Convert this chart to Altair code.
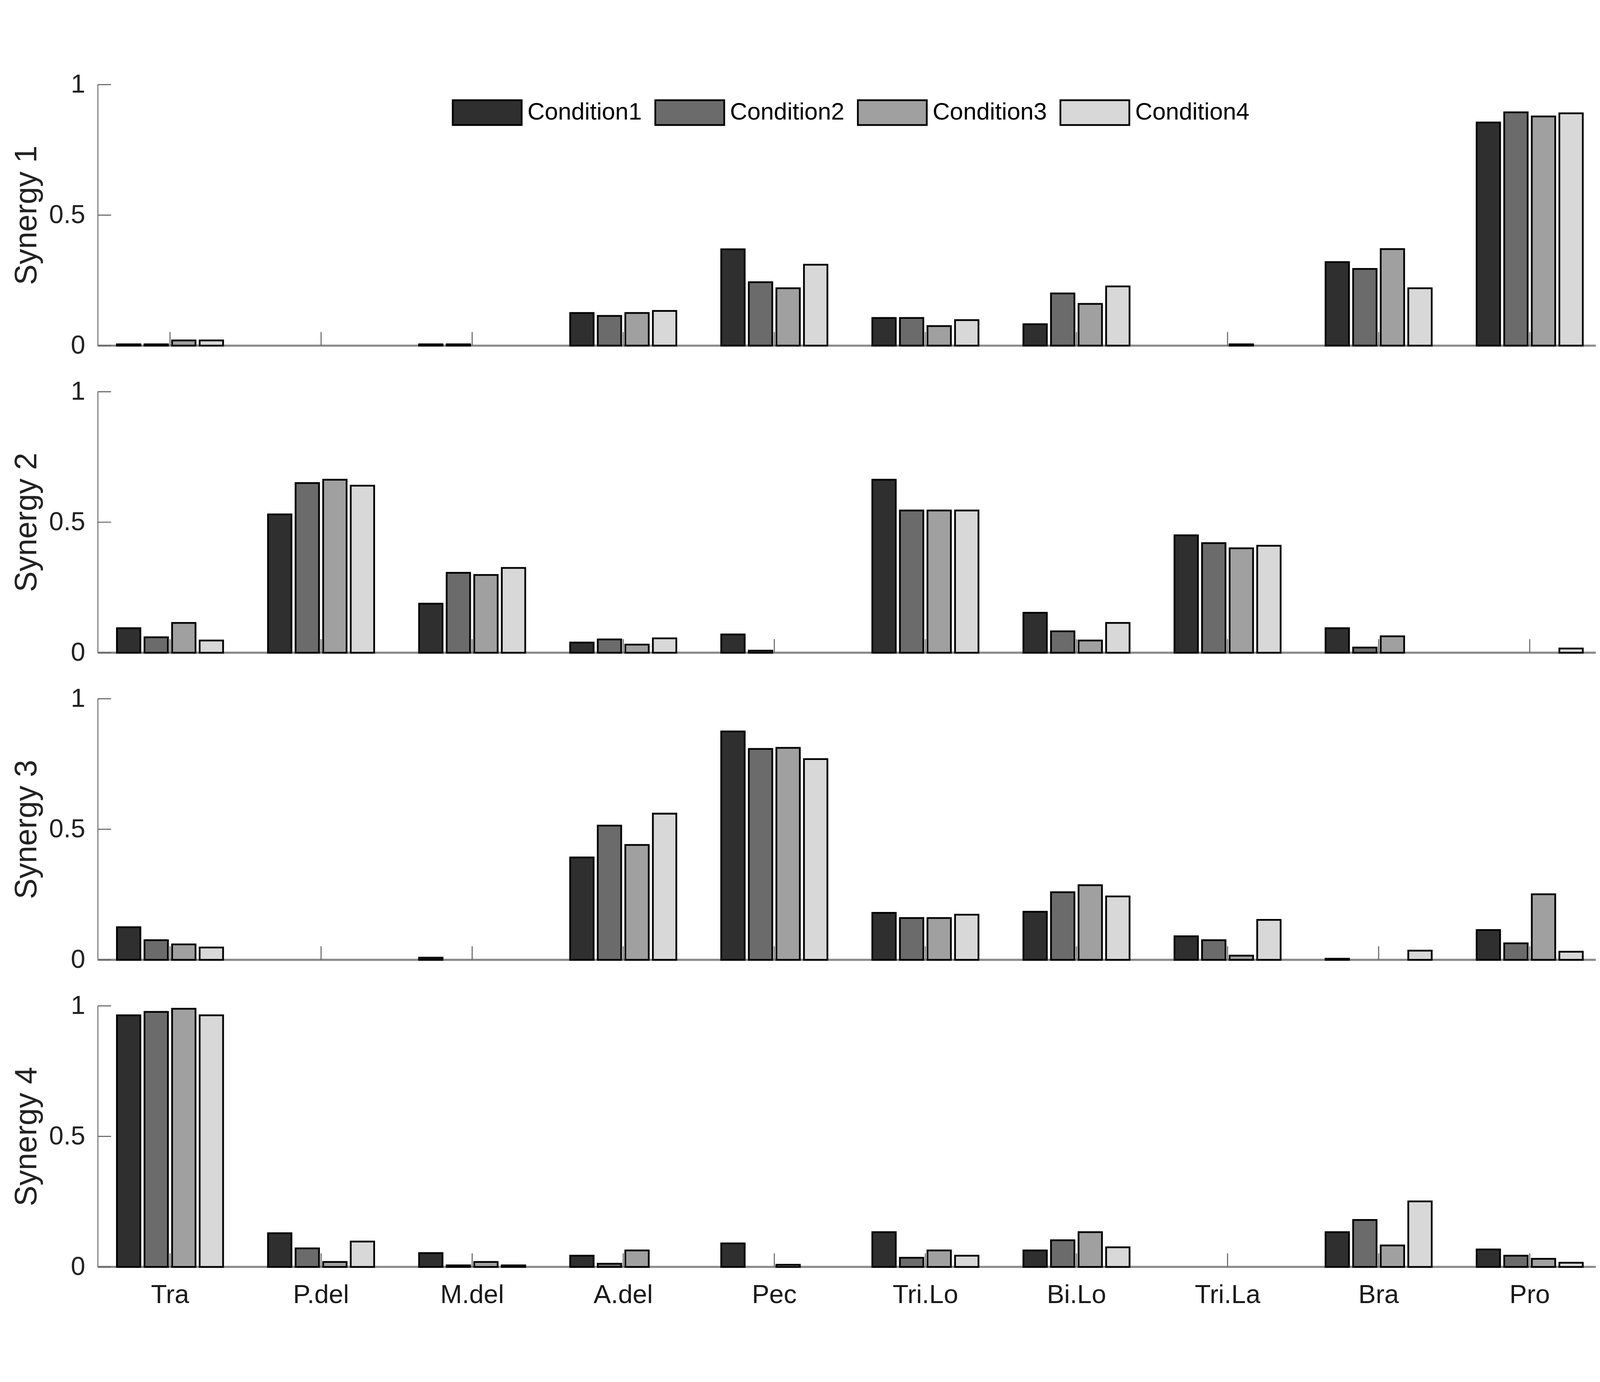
import altair as alt
import pandas as pd

muscles = ["Tra", "P.del", "M.del", "A.del", "Pec", "Tri.Lo", "Bi.Lo", "Tri.La", "Bra", "Pro"]
conditions = ["Condition1", "Condition2", "Condition3", "Condition4"]
synergy_titles = ["Synergy 1", "Synergy 2", "Synergy 3", "Synergy 4"]
y_ticks = [0, 0.5, 1]
colors = ["#2f2f2f", "#6b6b6b", "#a0a0a0", "#d8d8d8"]

# Synergy 1
syn1_c1 = [0.005, 0, 0.005, 0.125, 0.369, 0.106, 0.082, 0, 0.320, 0.855]
syn1_c2 = [0.005, 0, 0.005, 0.114, 0.243, 0.106, 0.200, 0, 0.294, 0.894]
syn1_c3 = [0.020, 0, 0, 0.125, 0.220, 0.075, 0.160, 0.005, 0.370, 0.878]
syn1_c4 = [0.020, 0, 0, 0.133, 0.310, 0.098, 0.227, 0, 0.220, 0.890]
# Synergy 2
syn2_c1 = [0.094, 0.530, 0.188, 0.039, 0.070, 0.663, 0.153, 0.450, 0.094, 0]
syn2_c2 = [0.059, 0.650, 0.306, 0.051, 0.008, 0.545, 0.082, 0.420, 0.020, 0]
syn2_c3 = [0.114, 0.663, 0.298, 0.031, 0, 0.545, 0.047, 0.400, 0.063, 0]
syn2_c4 = [0.047, 0.640, 0.325, 0.055, 0, 0.545, 0.114, 0.410, 0, 0.016]
# Synergy 3
syn3_c1 = [0.125, 0, 0.008, 0.392, 0.875, 0.180, 0.184, 0.090, 0.004, 0.114]
syn3_c2 = [0.075, 0, 0, 0.514, 0.808, 0.160, 0.259, 0.075, 0, 0.063]
syn3_c3 = [0.059, 0, 0, 0.440, 0.812, 0.160, 0.286, 0.016, 0, 0.251]
syn3_c4 = [0.047, 0, 0, 0.560, 0.769, 0.173, 0.243, 0.153, 0.035, 0.031]
# Synergy 4
syn4_c1 = [0.964, 0.129, 0.053, 0.043, 0.090, 0.133, 0.063, 0, 0.133, 0.067]
syn4_c2 = [0.977, 0.071, 0.006, 0.012, 0, 0.035, 0.102, 0, 0.180, 0.043]
syn4_c3 = [0.989, 0.019, 0.019, 0.063, 0.008, 0.063, 0.133, 0, 0.082, 0.031]
syn4_c4 = [0.964, 0.097, 0.006, 0, 0, 0.043, 0.075, 0, 0.251, 0.016]

synergies = [
    [syn1_c1, syn1_c2, syn1_c3, syn1_c4],
    [syn2_c1, syn2_c2, syn2_c3, syn2_c4],
    [syn3_c1, syn3_c2, syn3_c3, syn3_c4],
    [syn4_c1, syn4_c2, syn4_c3, syn4_c4],
]

W = 4260
H = 742
FONT = "Liberation Sans"


def panel(i):
    rows = []
    for cond, vals in zip(conditions, synergies[i]):
        for m, v in zip(muscles, vals):
            rows.append({"muscle": m, "condition": cond, "value": v})
    df = pd.DataFrame(rows)
    last = i == len(synergies) - 1

    if last:
        xaxis = alt.Axis(title=None, ticks=False, domain=False, labelPadding=44,
                         labelFontSize=74, labelColor="#1a1a1a", labelAngle=0,
                         labelFont=FONT, labelLimit=0)
    else:
        xaxis = None
    xscale = alt.Scale(paddingInner=0.27, paddingOuter=0.093, align=0.61)
    yscale = alt.Scale(domain=[0, 1])
    yaxis = alt.Axis(values=y_ticks, format="~g", ticks=False, grid=False,
                     domainColor="#777777", domainWidth=3,
                     labelFontSize=74, labelPadding=36, labelColor="#222222",
                     labelFont=FONT,
                     titleFontSize=88, titleFontWeight="normal", titlePadding=18,
                     titleColor="#222222", titleFont=FONT)

    if i == 0:
        legend = alt.Legend(title=None, orient="none", legendX=1007, legendY=-21,
                            direction="horizontal",
                            symbolType="M-1,-0.36H1V0.36H-1Z", symbolSize=38416,
                            symbolStrokeColor="black", symbolStrokeWidth=5,
                            symbolOpacity=1, labelLimit=0,
                            labelFontSize=68, labelFont=FONT, labelColor="black",
                            columnPadding=27, labelOffset=14, padding=0)
    else:
        legend = None

    baseline = alt.Chart(pd.DataFrame({"z": [0]})).mark_rule(
        color="#8a8a8a", strokeWidth=6
    ).encode(y=alt.datum(0))

    xticks = alt.Chart(pd.DataFrame({"muscle": muscles})).mark_rule(
        color="#666666", strokeWidth=3
    ).encode(
        x=alt.X("muscle:N", sort=muscles, scale=xscale, axis=xaxis),
        y=alt.datum(0),
        y2=alt.datum(0.052),
    )

    yt = alt.Chart(pd.DataFrame({"t": y_ticks})).mark_rule(
        color="#666666", strokeWidth=3
    ).encode(
        y=alt.Y("t:Q", scale=yscale, axis=yaxis, title=synergy_titles[i]),
        x=alt.value(0),
        x2=alt.value(38),
    )

    bars = alt.Chart(df).transform_filter("datum.value > 0").mark_bar(
        stroke="black", strokeWidth=5
    ).encode(
        x=alt.X("muscle:N", sort=muscles, scale=xscale, axis=xaxis),
        xOffset=alt.XOffset("condition:N", sort=conditions,
                            scale=alt.Scale(paddingInner=0.15, paddingOuter=0.075)),
        y=alt.Y("value:Q", scale=yscale, axis=yaxis, title=synergy_titles[i]),
        color=alt.Color("condition:N", sort=conditions,
                        scale=alt.Scale(domain=conditions, range=colors),
                        legend=legend),
    )

    return alt.layer(baseline, xticks, yt, bars).properties(width=W, height=H)


panels = [panel(i) for i in range(4)]

chart = alt.vconcat(*panels, spacing=131, bounds="flush").resolve_scale(
    color="independent"
).properties(
    padding={"left": 24, "top": 0, "right": 0, "bottom": 0}
).configure(
    font=FONT, background="white"
).configure_view(
    strokeWidth=0, stroke="transparent"
)

chart.save("out.html", embed_options={"renderer": "svg", "actions": False})
